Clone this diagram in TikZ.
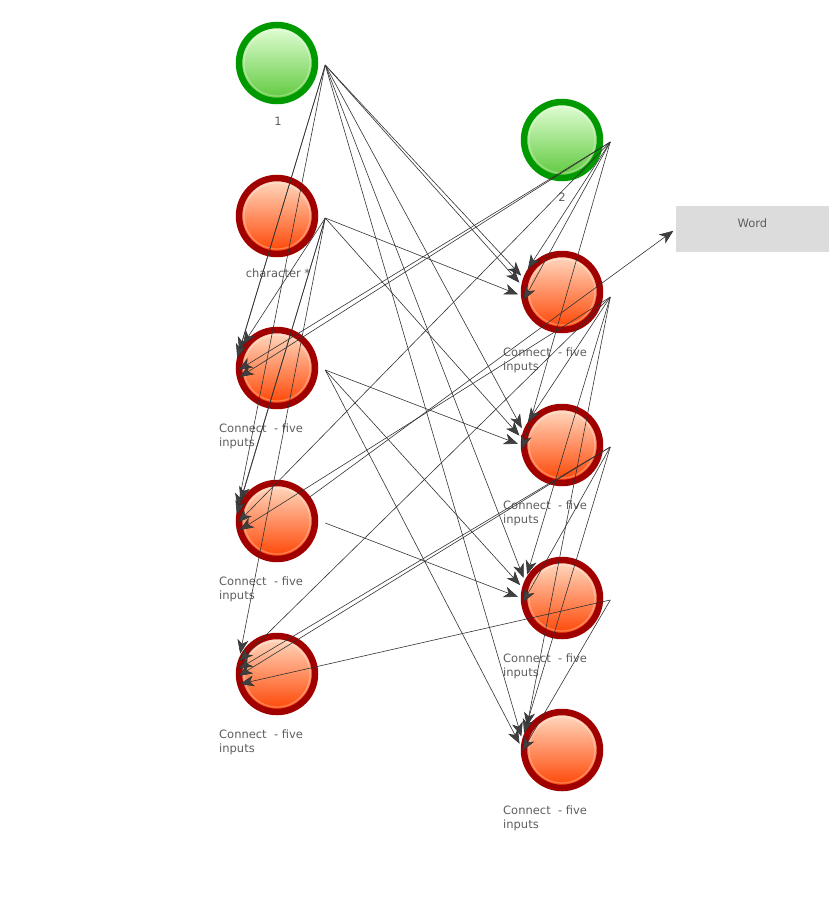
\documentclass[tikz,border=0pt]{standalone}
\usepackage{fontspec}
\setmainfont{DejaVu Sans}
\usepackage{tikz}
\usetikzlibrary{arrows.meta}
\definecolor{ngreen}{HTML}{009A00}
\definecolor{gtop}{HTML}{E4FFD8}
\definecolor{gbot}{HTML}{5CC83A}
\definecolor{nred}{HTML}{A00000}
\definecolor{rtop}{HTML}{FFDCC4}
\definecolor{rbot}{HTML}{FF4200}
\definecolor{tgray}{HTML}{5E5E5E}
\definecolor{wgray}{HTML}{DCDCDC}

\begin{document}
\begin{tikzpicture}[x=1pt,y=-1pt,
  neuron/.style={circle,minimum size=76pt,inner sep=0pt,line width=6.5pt,draw,
    path picture={\draw[white,opacity=0.3,line width=1.2pt] (path picture bounding box.center) circle (33pt);}},
  inp/.style={neuron,draw=ngreen,top color=gtop,bottom color=gbot},
  hid/.style={neuron,draw=nred,top color=rtop,bottom color=rbot},
  lbl/.style={text=tgray,font=\fontsize{11.5}{14}\selectfont},
  hlbl/.style={lbl,anchor=north west,align=left,inner sep=0pt},
  link/.style={black!80,line width=0.6pt,shorten >=3pt,-{Stealth[length=14pt,width=11pt,inset=4pt,fill=black!75]}}]
\useasboundingbox (0,0) rectangle (840,916);

% left column
\node[inp] (a) at (277,63) {};
\node[hid] (b) at (277,216) {};
\node[hid] (c) at (277,368) {};
\node[hid] (d) at (277,521) {};
\node[hid] (e) at (277,674) {};
% right column
\node[inp] (f) at (562,140) {};
\node[hid] (g) at (562,292) {};
\node[hid] (h) at (562,445) {};
\node[hid] (k) at (562,598) {};
\node[hid] (l) at (562,750) {};
\node[fill=wgray,minimum width=153pt,minimum height=46pt,text height=8pt,text depth=11pt,text=tgray,font=\fontsize{11.5}{14}\selectfont] (w) at (752.5,229) {Word};

% labels
\node[lbl] (a1) at (278,121) {1};
\node[lbl] (b1) at (278,273) {character *};
\node[lbl] (f1) at (562,197) {2};
\node[hlbl] (c1) at (219,424) {Connect \ - five\\inputs};
\node[hlbl] (d1) at (219,577) {Connect \ - five\\inputs};
\node[hlbl] (e1) at (219,730) {Connect \ - five\\inputs};
\node[hlbl] (g1) at (503,348) {Connect \ - five\\inputs};
\node[hlbl] (h1) at (503,501) {Connect \ - five\\inputs};
\node[hlbl] (k1) at (503,654) {Connect \ - five\\inputs};
\node[hlbl] (l1) at (503,806) {Connect \ - five\\inputs};

% outgoing points
\coordinate (ao) at ([xshift=7pt,yshift=-2pt]a.east);
\coordinate (bo) at ([xshift=7pt,yshift=-2pt]b.east);
\coordinate (co) at ([xshift=7pt,yshift=-2pt]c.east);
\coordinate (do) at ([xshift=7pt,yshift=-2pt]d.east);
\coordinate (fo) at ([xshift=7pt,yshift=-2pt]f.east);
\coordinate (go) at ([xshift=7pt,yshift=-5pt]g.east);
\coordinate (ho) at ([xshift=7pt,yshift=-2pt]h.east);
\coordinate (ko) at ([xshift=7pt,yshift=-2pt]k.east);

% into c
\draw[link] (ao)--(c.160);
\draw[link] (ao)--(c.170);
\draw[link] (bo)--(c.150);
\draw[link] (fo)--(c.185);
\draw[link] (fo)--(c.195);
% into d
\draw[link] (ao)--(d.165);
\draw[link] (bo)--(d.155);
\draw[link] (bo)--(d.175);
\draw[link] (fo)--(d.185);
\draw[link] (go)--(d.195);
% into e
\draw[link] (bo)--(e.155);
\draw[link] (go)--(e.165);
\draw[link] (ho)--(e.175);
\draw[link] (ho)--(e.185);
\draw[link] (ko)--(e.195);
% into g
\draw[link] (ao)--(g.160);
\draw[link] (ao)--(g.170);
\draw[link] (bo)--(g.185);
\draw[link] (fo)--(g.150);
\draw[link] (fo)--(g.195);
% into h
\draw[link] (ao)--(h.160);
\draw[link] (bo)--(h.170);
\draw[link] (co)--(h.180);
\draw[link] (fo)--(h.190);
\draw[link] (go)--(h.150);
% into k
\draw[link] (ao)--(k.155);
\draw[link] (co)--(k.165);
\draw[link] (do)--(k.180);
\draw[link] (go)--(k.150);
\draw[link] (ho)--(k.190);
% into l
\draw[link] (ao)--(l.165);
\draw[link] (co)--(l.175);
\draw[link] (go)--(l.150);
\draw[link] (ho)--(l.160);
\draw[link] (ko)--(l.185);
% output
\draw[link] (d)--(w.west);
\end{tikzpicture}
\end{document}
